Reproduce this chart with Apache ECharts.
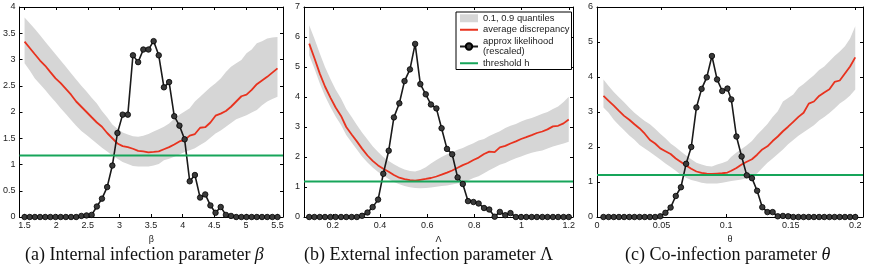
<!DOCTYPE html>
<html>
<head>
<meta charset="utf-8">
<script src="https://cdn.jsdelivr.net/npm/echarts@6.0.0/dist/echarts.min.js"></script>
<style>
  html, body { margin: 0; padding: 0; background: #fff; }
  #chart { width: 872px; height: 268px; }
</style>
</head>
<body>
<div id="chart"></div>
<script>
// ---- panel (a): beta ----
const betaGrid = [1.5, 1.582, 1.663, 1.745, 1.827, 1.908, 1.99, 2.071, 2.153, 2.235,
  2.316, 2.398, 2.48, 2.561, 2.643, 2.724, 2.806, 2.888, 2.969, 3.051,
  3.133, 3.214, 3.296, 3.378, 3.459, 3.541, 3.622, 3.704, 3.786, 3.867,
  3.949, 4.031, 4.112, 4.194, 4.276, 4.357, 4.439, 4.52, 4.602, 4.684,
  4.765, 4.847, 4.929, 5.01, 5.092, 5.173, 5.255, 5.337, 5.418, 5.5];
const betaLower = [2.93, 2.79, 2.64, 2.53, 2.42, 2.3, 2.19, 2.07, 1.96, 1.85,
  1.74, 1.64, 1.56, 1.48, 1.4, 1.32, 1.25, 1.17, 1.11, 1.05,
  1.01, 0.97, 0.96, 0.96, 0.96, 0.98, 1.01, 1.08, 1.11, 1.15,
  1.19, 1.24, 1.27, 1.31, 1.37, 1.43, 1.51, 1.59, 1.65, 1.72,
  1.79, 1.86, 1.9, 1.94, 1.99, 2.04, 2.13, 2.2, 2.25, 2.29];
const betaUpper = [3.8, 3.69, 3.58, 3.46, 3.34, 3.22, 3.1, 2.98, 2.86, 2.74,
  2.62, 2.5, 2.39, 2.27, 2.16, 2.02, 1.9, 1.76, 1.68, 1.61,
  1.57, 1.54, 1.53, 1.55, 1.58, 1.63, 1.67, 1.72, 1.78, 1.87,
  1.95, 2.01, 2.07, 2.2, 2.29, 2.38, 2.47, 2.55, 2.64, 2.76,
  2.86, 2.93, 2.99, 3.12, 3.19, 3.31, 3.35, 3.4, 3.42, 3.43];
const betaAvg = [3.34, 3.22, 3.1, 2.98, 2.88, 2.76, 2.64, 2.55, 2.44, 2.33,
  2.2, 2.1, 2.0, 1.9, 1.8, 1.72, 1.6, 1.5, 1.4, 1.35,
  1.33, 1.3, 1.26, 1.25, 1.23, 1.24, 1.25, 1.29, 1.33, 1.38,
  1.44, 1.47, 1.55, 1.58, 1.7, 1.71, 1.8, 1.93, 1.97, 2.02,
  2.1, 2.2, 2.3, 2.33, 2.42, 2.53, 2.6, 2.67, 2.75, 2.83];
const betaLik = [0, 0, 0, 0, 0, 0, 0, 0, 0, 0,
  0, 0.02, 0.03, 0.04, 0.2, 0.35, 0.57, 0.98, 1.6, 1.95,
  1.95, 3.08, 2.95, 3.19, 3.19, 3.35, 3.08, 2.47, 2.57, 1.92,
  1.74, 1.48, 0.68, 0.8, 0.37, 0.43, 0.22, 0.08, 0.19, 0.04,
  0.02, 0, 0, 0, 0, 0, 0, 0, 0, 0];
const betaThreshold = 1.17;
const betaTicks = [1.5, 2, 2.5, 3, 3.5, 4, 4.5, 5, 5.5];

// ---- panel (b): Lambda ----
const lambdaGrid = [0.1, 0.122, 0.145, 0.167, 0.19, 0.212, 0.235, 0.257, 0.28, 0.302,
  0.324, 0.347, 0.369, 0.392, 0.414, 0.437, 0.459, 0.482, 0.504, 0.527,
  0.549, 0.571, 0.594, 0.616, 0.639, 0.661, 0.684, 0.706, 0.729, 0.751,
  0.773, 0.796, 0.818, 0.841, 0.863, 0.886, 0.908, 0.931, 0.953, 0.976,
  0.998, 1.02, 1.043, 1.065, 1.088, 1.11, 1.133, 1.155, 1.178, 1.2];
const lambdaLower = [5.39, 4.95, 4.45, 4.03, 3.67, 3.35, 3.07, 2.73, 2.48, 2.25,
  2.02, 1.82, 1.65, 1.5, 1.38, 1.27, 1.17, 1.09, 1.03, 0.99,
  0.97, 0.96, 0.97, 0.98, 1.01, 1.03, 1.05, 1.08, 1.12, 1.16,
  1.22, 1.3, 1.36, 1.46, 1.56, 1.65, 1.74, 1.8, 1.88, 1.96,
  2.02, 2.08, 2.14, 2.18, 2.22, 2.28, 2.35, 2.4, 2.45, 2.51];
const lambdaUpper = [6.39, 5.95, 5.45, 5.0, 4.6, 4.25, 3.95, 3.6, 3.33, 3.07,
  2.82, 2.58, 2.36, 2.17, 2.0, 1.87, 1.76, 1.66, 1.58, 1.53,
  1.52, 1.57, 1.66, 1.78, 1.9, 2.0, 2.09, 2.16, 2.24, 2.3,
  2.38, 2.46, 2.55, 2.6, 2.7, 2.78, 2.86, 2.97, 3.04, 3.1,
  3.18, 3.25, 3.3, 3.37, 3.44, 3.5, 3.6, 3.68, 3.83, 4.01];
const lambdaAvg = [5.78, 5.3, 4.78, 4.35, 3.98, 3.65, 3.37, 3.0, 2.75, 2.52,
  2.28, 2.05, 1.87, 1.72, 1.61, 1.51, 1.4, 1.31, 1.26, 1.23,
  1.21, 1.24, 1.27, 1.3, 1.35, 1.41, 1.48, 1.55, 1.64, 1.73,
  1.8, 1.9, 1.98, 2.1, 2.18, 2.16, 2.32, 2.37, 2.45, 2.52,
  2.6, 2.66, 2.73, 2.8, 2.85, 2.92, 3.02, 3.04, 3.12, 3.25];
const lambdaLik = [0, 0, 0, 0, 0, 0, 0, 0, 0, 0,
  0.04, 0.15, 0.33, 0.58, 1.44, 2.21, 3.32, 3.79, 4.53, 4.92,
  5.77, 4.43, 4.09, 3.75, 3.62, 2.96, 2.27, 2.09, 1.32, 1.1,
  0.53, 0.5, 0.45, 0.3, 0.25, 0.01, 0.17, 0.06, 0.13, 0,
  0, 0, 0, 0, 0, 0, 0, 0, 0, 0];
const lambdaThreshold = 1.18;
const lambdaTicks = [0.2, 0.4, 0.6, 0.8, 1, 1.2];

// ---- panel (c): theta ----
const thetaGrid = [0.005, 0.009, 0.013, 0.017, 0.021, 0.025, 0.029, 0.033, 0.037, 0.041,
  0.045, 0.049, 0.053, 0.057, 0.061, 0.065, 0.069, 0.073, 0.077, 0.081,
  0.085, 0.089, 0.093, 0.097, 0.101, 0.104, 0.108, 0.112, 0.116, 0.12,
  0.124, 0.128, 0.132, 0.136, 0.14, 0.144, 0.148, 0.152, 0.156, 0.16,
  0.164, 0.168, 0.172, 0.176, 0.18, 0.184, 0.188, 0.192, 0.196, 0.2];
const thetaLower = [3.13, 2.98, 2.78, 2.62, 2.48, 2.33, 2.21, 2.06, 1.96, 1.86,
  1.75, 1.64, 1.53, 1.43, 1.32, 1.2, 1.12, 1.06, 1.02, 0.98,
  0.96, 0.96, 0.96, 0.98, 1.01, 1.03, 1.05, 1.07, 1.11, 1.18,
  1.24, 1.4, 1.55, 1.67, 1.8, 1.93, 2.08, 2.2, 2.32, 2.42,
  2.52, 2.62, 2.76, 2.86, 2.97, 3.1, 3.24, 3.34, 3.47, 3.64];
const thetaUpper = [3.93, 3.74, 3.57, 3.42, 3.28, 3.12, 2.98, 2.86, 2.74, 2.65,
  2.52, 2.38, 2.25, 2.1, 1.99, 1.87, 1.76, 1.65, 1.55, 1.5,
  1.46, 1.44, 1.5, 1.54, 1.6, 1.72, 1.84, 1.94, 2.05, 2.17,
  2.35, 2.5, 2.66, 2.86, 3.02, 3.3, 3.4, 3.5, 3.69, 3.8,
  3.93, 4.05, 4.2, 4.3, 4.45, 4.6, 4.73, 4.88, 5.1, 5.45];
const thetaAvg = [3.46, 3.32, 3.18, 3.03, 2.89, 2.78, 2.65, 2.53, 2.38, 2.2,
  2.1, 1.96, 1.88, 1.8, 1.67, 1.57, 1.47, 1.38, 1.3, 1.26,
  1.24, 1.23, 1.24, 1.25, 1.27, 1.32, 1.4, 1.5, 1.58, 1.65,
  1.78, 1.93, 2.02, 2.17, 2.3, 2.45, 2.58, 2.72, 2.86, 2.98,
  3.24, 3.3, 3.46, 3.56, 3.65, 3.86, 3.9, 4.1, 4.3, 4.56];
const thetaLik = [0, 0, 0, 0, 0, 0, 0, 0, 0, 0,
  0, 0.02, 0.12, 0.27, 0.6, 0.85, 1.52, 2.0, 3.13, 3.66,
  3.99, 4.6, 3.93, 3.6, 3.67, 3.36, 2.3, 1.73, 1.19, 1.11,
  0.75, 0.28, 0.14, 0.14, 0.02, 0.03, 0.02, 0, 0, 0,
  0, 0, 0, 0, 0, 0, 0, 0, 0, 0];
const thetaThreshold = 1.2;
const thetaTicks = [0, 0.05, 0.1, 0.15, 0.2];

const captions = [
  '(a) Internal infection parameter {i|β}',
  '(b) External infection parameter {n|Λ}',
  '(c) Co-infection parameter {i|θ}'
];
const legendNames = ['0.1, 0.9 quantiles', 'average discrepancy', 'approx likelihood', 'threshold h'];

const sans = '"Liberation Sans", Arial, sans-serif';
const serif = '"Liberation Serif", "Times New Roman", serif';
const gray = '#d6d6d6';
const red = '#e8321e';
const green = '#17a55a';

const panels = [
  { x: betaGrid, lo: betaLower, hi: betaUpper, avg: betaAvg, lik: betaLik, h: betaThreshold,
    ticks: betaTicks, left: 19, width: 264, xMin: 1.42, xMax: 5.587, yMax: 4, yStep: 0.5, name: 'β', capLeft: 25 },
  { x: lambdaGrid, lo: lambdaLower, hi: lambdaUpper, avg: lambdaAvg, lik: lambdaLik, h: lambdaThreshold,
    ticks: lambdaTicks, left: 304, width: 269, xMin: 0.078, xMax: 1.218, yMax: 7, yStep: 1, name: 'Λ', capLeft: 304 },
  { x: thetaGrid, lo: thetaLower, hi: thetaUpper, avg: thetaAvg, lik: thetaLik, h: thetaThreshold,
    ticks: thetaTicks, left: 597, width: 266, xMin: 0, xMax: 0.206, yMax: 6, yStep: 1, name: 'θ', capLeft: 625 }
];

const grid = [], xAxis = [], yAxis = [], series = [], title = [];
const axisLine = { onZero: false, lineStyle: { color: '#000', width: 1 } };
const tickStyle = { color: '#000', width: 1 };
const labelStyle = { fontFamily: sans, fontSize: 9, color: '#222' };

panels.forEach((p, i) => {
  grid.push({ left: p.left, top: 7, width: p.width, height: 210 });
  // bottom + top x axes
  xAxis.push({
    gridIndex: i, type: 'value', min: p.xMin, max: p.xMax, position: 'bottom',
    axisLine: axisLine,
    axisTick: { inside: true, length: 3, customValues: p.ticks, lineStyle: tickStyle },
    axisLabel: Object.assign({ customValues: p.ticks, margin: 4 }, labelStyle),
    splitLine: { show: false },
    name: p.name, nameLocation: 'middle', nameGap: 10,
    nameTextStyle: { fontFamily: sans, fontSize: 9, color: '#222' }
  });
  xAxis.push({
    gridIndex: i, type: 'value', min: p.xMin, max: p.xMax, position: 'top',
    axisLine: axisLine,
    axisTick: { inside: true, length: 3, customValues: p.ticks, lineStyle: tickStyle },
    axisLabel: { show: false }, splitLine: { show: false }
  });
  // left + right y axes
  yAxis.push({
    gridIndex: i, type: 'value', min: 0, max: p.yMax, interval: p.yStep, position: 'left',
    axisLine: axisLine,
    axisTick: { inside: true, length: 3, lineStyle: tickStyle },
    axisLabel: Object.assign({ margin: 4 }, labelStyle),
    splitLine: { show: false }
  });
  yAxis.push({
    gridIndex: i, type: 'value', min: 0, max: p.yMax, interval: p.yStep, position: 'right',
    axisLine: axisLine,
    axisTick: { inside: true, length: 3, lineStyle: tickStyle },
    axisLabel: { show: false }, splitLine: { show: false }
  });

  const xi = i * 2, yi = i * 2;
  // quantile band as one polygon: upper edge forward, lower edge back
  series.push({
    type: 'custom', name: legendNames[0], xAxisIndex: xi, yAxisIndex: yi,
    data: p.x.map((v, k) => [v, p.lo[k], p.hi[k]]),
    encode: { x: 0, y: [1, 2] },
    itemStyle: { color: gray }, silent: true,
    renderItem: (params, api) => {
      if (params.dataIndex !== 0) return;
      const pts = [];
      for (let k = 0; k < p.x.length; k++) pts.push(api.coord([p.x[k], p.hi[k]]));
      for (let k = p.x.length - 1; k >= 0; k--) pts.push(api.coord([p.x[k], p.lo[k]]));
      return { type: 'polygon', shape: { points: pts }, style: { fill: gray } };
    }
  });
  series.push({
    type: 'line', name: legendNames[1], xAxisIndex: xi, yAxisIndex: yi,
    data: p.x.map((v, k) => [v, p.avg[k]]),
    symbol: 'none', lineStyle: { color: red, width: 1.8 }, itemStyle: { color: red }
  });
  series.push({
    type: 'line', name: legendNames[2], xAxisIndex: xi, yAxisIndex: yi,
    data: p.x.map((v, k) => [v, p.lik[k]]),
    symbol: 'circle', symbolSize: 5.5,
    lineStyle: { color: '#1a1a1a', width: 1.6 },
    itemStyle: { color: '#3a3a3a', borderColor: '#000', borderWidth: 0.8 }
  });
  series.push({
    type: 'line', name: legendNames[3], xAxisIndex: xi, yAxisIndex: yi,
    data: [[p.xMin, p.h], [p.xMax, p.h]],
    symbol: 'none', lineStyle: { color: green, width: 2 }, itemStyle: { color: green }
  });

  title.push({
    text: captions[i], left: p.capLeft, top: 246, padding: 0,
    textStyle: {
      fontFamily: serif, fontSize: 18, fontWeight: 'normal', color: '#111',
      rich: {
        i: { fontFamily: serif, fontSize: 18, fontStyle: 'italic', color: '#111' },
        n: { fontFamily: serif, fontSize: 18, color: '#111' }
      }
    }
  });
});

const hideSymbol = { opacity: 0, color: 'transparent', borderWidth: 0 };
const chart = echarts.init(document.getElementById('chart'), null, { renderer: 'canvas' });
chart.setOption({
  animation: false,
  backgroundColor: '#fff',
  title: title,
  grid: grid,
  xAxis: xAxis,
  yAxis: yAxis,
  legend: {
    data: [
      { name: legendNames[0], icon: 'rect', itemStyle: { color: gray } },
      { name: legendNames[1], itemStyle: hideSymbol },
      { name: legendNames[2] },
      { name: legendNames[3], itemStyle: hideSymbol }
    ],
    orient: 'vertical', left: 456, top: 12,
    itemWidth: 18, itemHeight: 8, itemGap: 1,
    padding: [1, 2, 1, 3],
    borderColor: '#000', borderWidth: 1, backgroundColor: '#fff',
    selectedMode: false,
    formatter: n => n === legendNames[2] ? 'approx likelihood\n(rescaled)' : n,
    textStyle: { fontFamily: sans, fontSize: 9.4, lineHeight: 10.5, color: '#222' }
  },
  series: series
});
</script>
</body>
</html>
